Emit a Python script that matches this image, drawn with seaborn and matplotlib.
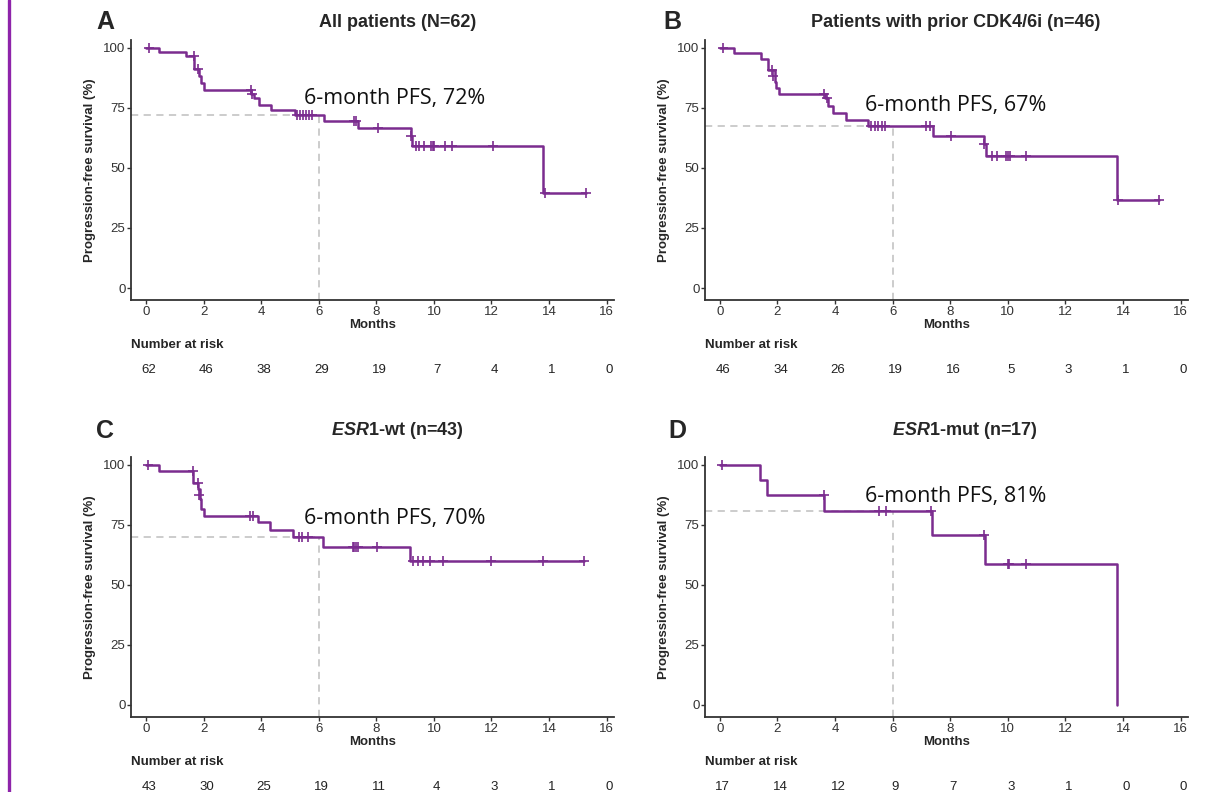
import numpy as np
import pandas as pd
import matplotlib
matplotlib.use("Agg")
import matplotlib.pyplot as plt
import seaborn as sns

sns.set_style("ticks")
plt.rcParams['font.family'] = ['Liberation Sans', 'DejaVu Sans']
plt.rcParams['mathtext.fontset'] = 'custom'
plt.rcParams['mathtext.it'] = 'Liberation Sans:italic:bold'
plt.rcParams['mathtext.rm'] = 'Liberation Sans:bold'

# Kaplan-Meier step points (time in months, PFS %)
a_t = [0, 0.44, 1.40, 1.66, 1.84, 1.90, 2.02, 3.66, 3.75, 3.93, 4.35, 5.19, 6.18, 7.37, 9.21, 9.25, 13.79, 15.28]
a_s = [100, 98.4, 96.7, 91.4, 88.3, 85.2, 82.3, 80.6, 79.0, 76.4, 74.2, 72.2, 69.7, 66.7, 63.5, 59.3, 39.5, 39.5]
a_ct = [0.1, 1.66, 1.79, 3.63, 3.69, 5.25, 5.35, 5.45, 5.55, 5.65, 5.75, 7.22, 7.31, 8.05, 9.21, 9.37, 9.49, 9.67, 9.90, 9.96, 10.02, 10.38, 10.62, 12.05, 13.85, 15.28]
a_cs = [100, 96.7, 91.4, 82.3, 80.6, 72.2, 72.2, 72.2, 72.2, 72.2, 72.2, 69.7, 69.7, 66.7, 63.5, 59.3, 59.3, 59.3, 59.3, 59.3, 59.3, 59.3, 59.3, 59.3, 39.5, 39.5]

b_t = [0, 0.48, 1.41, 1.68, 1.90, 1.95, 2.05, 3.66, 3.75, 3.94, 4.37, 5.16, 7.40, 9.17, 9.23, 13.78, 15.26]
b_s = [100, 97.8, 95.5, 91.0, 86.0, 83.5, 81.0, 79.2, 75.8, 72.8, 70.0, 67.4, 63.2, 59.8, 54.9, 36.6, 36.6]
b_ct = [0.1, 1.80, 1.86, 3.63, 3.72, 5.26, 5.38, 5.50, 5.62, 5.75, 7.17, 7.30, 8.04, 9.17, 9.46, 9.64, 9.95, 10.01, 10.07, 10.63, 13.84, 15.26]
b_cs = [100, 91.0, 88.5, 81.0, 79.2, 67.4, 67.4, 67.4, 67.4, 67.4, 67.4, 67.4, 63.2, 59.8, 54.9, 54.9, 54.9, 54.9, 54.9, 54.9, 36.6, 36.6]

c_t = [0, 0.45, 1.64, 1.79, 1.86, 1.92, 2.00, 3.90, 4.32, 5.12, 6.14, 9.17, 15.21]
c_s = [100, 97.6, 92.6, 90.0, 86.0, 81.5, 78.9, 76.1, 72.8, 69.8, 65.9, 59.8, 59.8]
c_ct = [0.07, 1.64, 1.79, 1.83, 3.61, 3.73, 5.33, 5.43, 5.63, 7.18, 7.24, 7.30, 7.38, 8.01, 9.26, 9.44, 9.62, 9.88, 10.33, 12.0, 13.79, 15.21]
c_cs = [100, 97.6, 92.6, 87.6, 78.9, 78.9, 69.8, 69.8, 69.8, 65.9, 65.9, 65.9, 65.9, 65.9, 59.8, 59.8, 59.8, 59.8, 59.8, 59.8, 59.8, 59.8]

d_t = [0, 1.39, 1.64, 3.60, 7.38, 9.21, 13.80]
d_s = [100, 93.7, 87.4, 81.0, 70.7, 58.9, 0]
d_ct = [0.06, 3.60, 5.52, 5.77, 7.32, 9.18, 9.99, 10.05, 10.63]
d_cs = [100, 87.4, 81.0, 81.0, 81.0, 70.7, 58.9, 58.9, 58.9]

pfs6 = [72, 67, 70, 81]
pfs6_line = [72.2, 67.4, 69.8, 81.0]
risk_times = [0, 2, 4, 6, 8, 10, 12, 14, 16]
risk_a = [62, 46, 38, 29, 19, 7, 4, 1, 0]
risk_b = [46, 34, 26, 19, 16, 5, 3, 1, 0]
risk_c = [43, 30, 25, 19, 11, 4, 3, 1, 0]
risk_d = [17, 14, 12, 9, 7, 3, 1, 0, 0]

letters = ['A', 'B', 'C', 'D']
titles = ['All patients (N=62)', 'Patients with prior CDK4/6i (n=46)',
          r'$\mathit{ESR1}$-wt (n=43)', r'$\mathit{ESR1}$-mut (n=17)']

curve_col = '#7B2C8F'

fig = plt.figure(figsize=(12.1, 7.92), dpi=100)

# purple bar on the left edge of the slide
fig.add_artist(plt.Line2D([0.0074, 0.0074], [0, 1], color='#8E24AA', lw=2.4, transform=fig.transFigure))

panels = [(a_t, a_s, a_ct, a_cs, risk_a), (b_t, b_s, b_ct, b_cs, risk_b),
          (c_t, c_s, c_ct, c_cs, risk_c), (d_t, d_s, d_ct, d_cs, risk_d)]
lefts = [0.1083, 0.5826, 0.1083, 0.5826]
bottoms = [0.6212, 0.6212, 0.0947, 0.0947]
text_pos = [(8.65, 79.0), (8.2, 76.0), (8.65, 77.5), (8.2, 87.0)]
title_x = [0.329, 0.79, 0.328, 0.797]
letter_x = [0.087, 0.556, 0.087, 0.56]
top_y = [0.972, 0.972, 0.456, 0.456]

for i, (t, s, ct, cs, risk) in enumerate(panels):
    ax = fig.add_axes([lefts[i], bottoms[i], 0.399, 0.3283])
    km = pd.DataFrame({'Months': t, 'PFS': s})
    cens = pd.DataFrame({'Months': ct, 'PFS': cs})

    # 6-month reference lines
    ax.plot([-0.52, 6], [pfs6_line[i], pfs6_line[i]], ls=(0, (4, 3)), color='#c8c8c8', lw=1.3, zorder=1)
    ax.plot([6, 6], [-5, pfs6_line[i]], ls=(0, (4, 3)), color='#c8c8c8', lw=1.3, zorder=1)

    sns.lineplot(data=km, x='Months', y='PFS', ax=ax, color=curve_col, lw=1.8,
                 drawstyle='steps-post', sort=False, estimator=None, zorder=3)
    sns.scatterplot(data=cens, x='Months', y='PFS', ax=ax, marker='+', s=45,
                    color=curve_col, linewidth=1.2, zorder=4)

    ax.set_xlim(-0.52, 16.25)
    ax.set_ylim(-5, 103.3)
    ax.set_xticks(np.arange(0, 17, 2))
    ax.set_yticks([0, 25, 50, 75, 100])
    ax.tick_params(labelsize=9.5, colors='#333333', length=3, width=1, pad=1)
    for sp in ['left', 'bottom']:
        ax.spines[sp].set_color('#333333')
        ax.spines[sp].set_linewidth(1.3)
    sns.despine(ax=ax)
    ax.set_xlabel('Months', fontsize=9.5, fontweight='bold', labelpad=1)
    ax.set_ylabel('Progression-free survival (%)', fontsize=9.5, fontweight='bold', labelpad=5)

    ax.text(text_pos[i][0], text_pos[i][1], f'6-month PFS, {pfs6[i]}%', fontsize=15.5,
            family=['Open Sans', 'DejaVu Sans'], ha='center', va='center', color='#111111')

    # number at risk table
    ax.text(0.0, -0.173, 'Number at risk', transform=ax.transAxes, fontsize=9.5,
            fontweight='bold', ha='left', va='center')
    for x, n in zip(risk_times, risk):
        ax.text(x + 0.1, -0.268, str(n), transform=ax.get_xaxis_transform(), fontsize=9.5,
                ha='center', va='center', color='#222222')

    fig.text(letter_x[i], top_y[i], letters[i], fontsize=18, fontweight='bold', ha='center', va='center')
    fig.text(title_x[i], top_y[i], titles[i], fontsize=13, fontweight='bold', ha='center', va='center')

fig.savefig('out.png', dpi=100)
